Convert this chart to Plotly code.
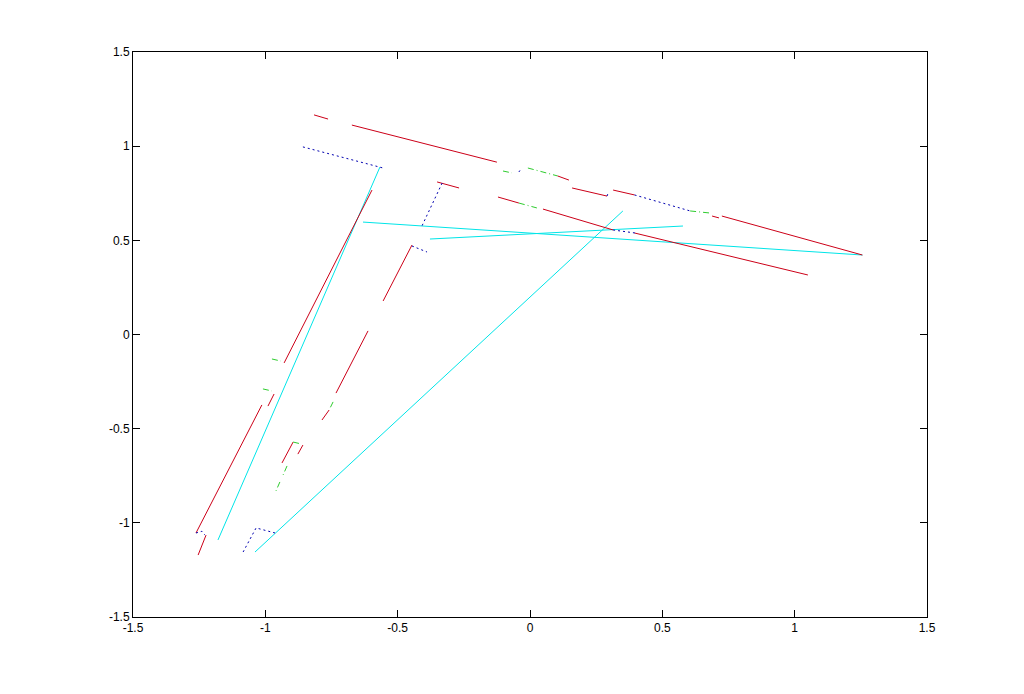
import plotly.graph_objects as go

N = None
# Red solid segments (x, y), separated by None
red_x = [-0.816, -0.763, N, -0.673, -0.125, N, 0.104, 0.147, N, 0.159, 0.291, N,
         0.314, 0.395, N, 0.688, 0.714, N, 0.725, 1.256, N,
         -0.351, -0.268, N, -0.121, -0.042, N, 0.049, 0.314, N, 0.395, 1.050, N,
         -0.597, -0.929, N, -0.967, -0.990, N, -1.013, -1.262, N, -1.224, -1.254, N,
         -0.446, -0.555, N, -0.612, -0.733, N, -0.759, -0.786, N,
         -0.895, -0.937, N, -0.858, -0.877]
red_y = [1.166, 1.144, N, 1.112, 0.915, N, 0.842, 0.820, N, 0.778, 0.735, N,
         0.767, 0.741, N, 0.629, 0.619, N, 0.629, 0.422, N,
         0.810, 0.778, N, 0.730, 0.698, N, 0.666, 0.555, N, 0.539, 0.316, N,
         0.767, -0.151, N, -0.316, -0.380, N, -0.374, -1.054, N, -1.065, -1.171, N,
         0.475, 0.178, N, 0.019, -0.311, N, -0.401, -0.454, N,
         -0.571, -0.682, N, -0.587, -0.635]

# Green dash-dot segments
green_x = [-0.102, -0.068, N, -0.008, 0.104, N, -0.042, 0.026, N, 0.605, 0.680, N,
           -0.975, -0.941, N, -1.009, -0.975, N, -0.744, -0.759, N,
           -0.895, -0.865, N, -0.918, -0.933, N, -0.945, -0.960]
green_y = [0.868, 0.858, N, 0.884, 0.842, N, 0.698, 0.672, N, 0.656, 0.645, N,
           -0.130, -0.141, N, -0.289, -0.300, N, -0.358, -0.401, N,
           -0.571, -0.581, N, -0.698, -0.746, N, -0.783, -0.831]

# Blue dotted segments
blue_x = [-0.858, -0.555, N, -0.332, -0.412, N, -0.446, -0.389, N,
          0.395, 0.605, N, 0.314, 0.397, N, -0.042, -0.038, N,
          -1.084, -1.035, -0.963, N, -1.262, -1.240, -1.228, N, 0.291, 0.295]
blue_y = [0.996, 0.884, N, 0.804, 0.565, N, 0.470, 0.438, N,
          0.741, 0.656, N, 0.555, 0.539, N, 0.863, 0.871, N,
          -1.155, -1.027, -1.054, N, -1.054, -1.045, -1.065, N, 0.735, 0.750]

# Cyan solid lines
cyan_x = [-1.179, -0.567, N, -1.039, 0.351, N, -0.631, 1.256, N, -0.378, 0.578]
cyan_y = [-1.091, 0.889, N, -1.155, 0.656, N, 0.597, 0.422, N, 0.507, 0.576]

x_ticks = [-1.5, -1, -0.5, 0, 0.5, 1, 1.5]
y_ticks = [-1.5, -1, -0.5, 0, 0.5, 1, 1.5]
x_labels = ["-1.5", "-1", "-0.5", "0", "0.5", "1", "1.5"]
y_labels = ["-1.5", "-1", "-0.5", "0", "0.5", "1", "1.5"]

fig = go.Figure()
fig.add_trace(go.Scatter(x=cyan_x, y=cyan_y, mode="lines",
                         line=dict(color="#00e5e8", width=1), connectgaps=False))
fig.add_trace(go.Scatter(x=red_x, y=red_y, mode="lines",
                         line=dict(color="#cc0018", width=1), connectgaps=False))
fig.add_trace(go.Scatter(x=green_x, y=green_y, mode="lines",
                         line=dict(color="#2ecc2e", width=1, dash="6px,3px,1px,3px"),
                         connectgaps=False))
fig.add_trace(go.Scatter(x=blue_x, y=blue_y, mode="lines",
                         line=dict(color="#0000b0", width=1, dash="2px,3px"),
                         connectgaps=False))

axis_common = dict(showgrid=False, zeroline=False, showline=True, linecolor="black",
                   linewidth=1, mirror="ticks", ticks="inside", ticklen=7,
                   tickcolor="black", tickwidth=1,
                   tickfont=dict(family="Liberation Sans, Arial", size=12, color="black"))

fig.update_layout(
    width=1024, height=694,
    paper_bgcolor="white", plot_bgcolor="white",
    margin=dict(l=125, r=105, t=44, b=85),
    showlegend=False,
    xaxis=dict(range=[-1.5, 1.5], tickvals=x_ticks, ticktext=x_labels, **axis_common),
    yaxis=dict(range=[-1.5, 1.5], tickvals=y_ticks, ticktext=y_labels, **axis_common),
)

fig.write_html("out.html")
